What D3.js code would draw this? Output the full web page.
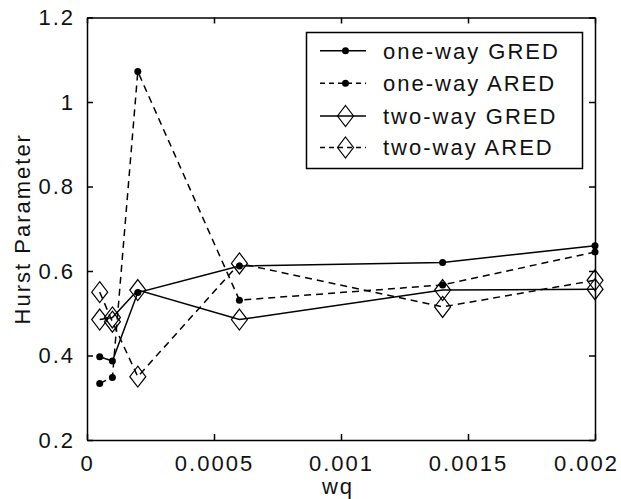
<!DOCTYPE html>
<html>
<head>
    <title>Hurst Parameter vs wq</title>
    <script src="https://cdn.jsdelivr.net/npm/d3@7"></script>
    <style>
        body {
            margin: 0;
            padding: 0;
            background-color: white;
        }

        text {
            font-family: "Liberation Sans", Arial, sans-serif;
            font-size: 22px;
            letter-spacing: 2px;
            fill: #111;
        }

        .axis path, .axis line {
            stroke: black;
            stroke-width: 1.5px;
        }
    </style>
</head>
<body>
    <div id="chart"></div>

    <script>
        // wq values
        const wq = [0.00005, 0.0001, 0.0002, 0.0006, 0.0014, 0.002];

        const oneWayGRED = [0.397, 0.387, 0.549, 0.612, 0.620, 0.660];
        const oneWayARED = [0.334, 0.348, 1.072, 0.531, 0.567, 0.645];
        const twoWayGRED = [0.485, 0.490, 0.555, 0.485, 0.555, 0.557];
        const twoWayARED = [0.550, 0.480, 0.350, 0.618, 0.515, 0.578];

        const seriesNames = ["one-way GRED", "one-way ARED", "two-way GRED", "two-way ARED"];

        const xTicks = [0, 0.0005, 0.001, 0.0015, 0.002];
        const xTickLabels = ["0", "0.0005", "0.001", "0.0015", "0.002"];
        const yTicks = [0.2, 0.4, 0.6, 0.8, 1, 1.2];
        const yTickLabels = ["0.2", "0.4", "0.6", "0.8", "1", "1.2"];

        const W = 621, H = 499;
        const margin = { top: 17.5, right: 26, bottom: 59, left: 87 };
        const width = W - margin.left - margin.right;
        const height = H - margin.top - margin.bottom;

        const series = [
            { name: seriesNames[0], values: oneWayGRED, dash: null, marker: "dot" },
            { name: seriesNames[1], values: oneWayARED, dash: "7,5", marker: "dot" },
            { name: seriesNames[2], values: twoWayGRED, dash: null, marker: "diamond" },
            { name: seriesNames[3], values: twoWayARED, dash: "7,5", marker: "diamond" }
        ];

        const svg = d3.select("#chart")
            .append("svg")
            .attr("width", W)
            .attr("height", H);

        const g = svg.append("g")
            .attr("transform", `translate(${margin.left},${margin.top})`);

        const xScale = d3.scaleLinear().domain([0, 0.002]).range([0, width]);
        const yScale = d3.scaleLinear().domain([0.2, 1.2]).range([height, 0]);

        // box axes, ticks pointing inward
        g.append("g")
            .attr("class", "axis")
            .attr("transform", `translate(0,${height})`)
            .call(d3.axisBottom(xScale).tickValues(xTicks).tickSizeInner(-6).tickSizeOuter(0)
                .tickPadding(10).tickFormat((d, i) => xTickLabels[i]))
            .call(a => a.selectAll("text").attr("dy", "0.95em"))
            // last label pulled inside the window, as in the original
            .call(a => a.selectAll("text").filter((d, i) => i === xTicks.length - 1).attr("dx", -9));

        g.append("g")
            .attr("class", "axis")
            .call(d3.axisTop(xScale).tickValues(xTicks).tickSizeInner(-6).tickSizeOuter(0).tickFormat(""));

        g.append("g")
            .attr("class", "axis")
            .call(d3.axisLeft(yScale).tickValues(yTicks).tickSizeInner(-6).tickSizeOuter(0)
                .tickPadding(12).tickFormat((d, i) => yTickLabels[i]));

        g.append("g")
            .attr("class", "axis")
            .attr("transform", `translate(${width},0)`)
            .call(d3.axisRight(yScale).tickValues(yTicks).tickSizeInner(-6).tickSizeOuter(0).tickFormat(""));

        g.selectAll(".axis text")
            .style("font-family", "'Liberation Sans', Arial, sans-serif")
            .style("font-size", "22px")
            .attr("fill", "#111");

        // axis labels
        g.append("text")
            .attr("x", width / 2 - 3)
            .attr("y", height + 54)
            .style("text-anchor", "middle")
            .text("wq");

        g.append("text")
            .attr("transform", "rotate(-90)")
            .attr("x", -height / 2)
            .attr("y", -margin.left + 30)
            .style("text-anchor", "middle")
            .text("Hurst Parameter");

        const line = d3.line()
            .x((d, i) => xScale(wq[i]))
            .y(d => yScale(d));

        const diamond = (cx, cy) => `M${cx},${cy - 10.5}L${cx + 8},${cy}L${cx},${cy + 10.5}L${cx - 8},${cy}Z`;

        function drawMarkers(sel, s, pts) {
            if (s.marker === "dot") {
                sel.selectAll(null)
                    .data(pts)
                    .enter()
                    .append("circle")
                    .attr("cx", d => d[0])
                    .attr("cy", d => d[1])
                    .attr("r", 3.5)
                    .attr("fill", "black");
            } else {
                sel.selectAll(null)
                    .data(pts)
                    .enter()
                    .append("path")
                    .attr("d", d => diamond(d[0], d[1]))
                    .attr("fill", "none")
                    .attr("stroke", "black")
                    .attr("stroke-width", 1.2);
            }
        }

        series.forEach(s => {
            const sg = g.append("g");
            sg.append("path")
                .datum(s.values)
                .attr("d", line)
                .attr("fill", "none")
                .attr("stroke", "black")
                .attr("stroke-width", 1.5)
                .attr("stroke-dasharray", s.dash);
            drawMarkers(sg, s, s.values.map((v, i) => [xScale(wq[i]), yScale(v)]));
        });

        // legend
        const legend = svg.append("g");
        legend.append("rect")
            .attr("x", 306.5)
            .attr("y", 32.5)
            .attr("width", 276)
            .attr("height", 136)
            .attr("fill", "white")
            .attr("stroke", "black")
            .attr("stroke-width", 1.5);

        const rowY = [50.7, 83.3, 116, 147.5];
        series.forEach((s, i) => {
            const ly = rowY[i];
            legend.append("line")
                .attr("x1", 320)
                .attr("x2", 366)
                .attr("y1", ly)
                .attr("y2", ly)
                .attr("stroke", "black")
                .attr("stroke-width", 1.5)
                .attr("stroke-dasharray", s.dash ? "5,4" : null);
            drawMarkers(legend, s, [[345.5, ly]]);
            legend.append("text")
                .attr("x", 383)
                .attr("y", ly)
                .attr("dy", "0.36em")
                .text(s.name);
        });
    </script>
</body>
</html>
